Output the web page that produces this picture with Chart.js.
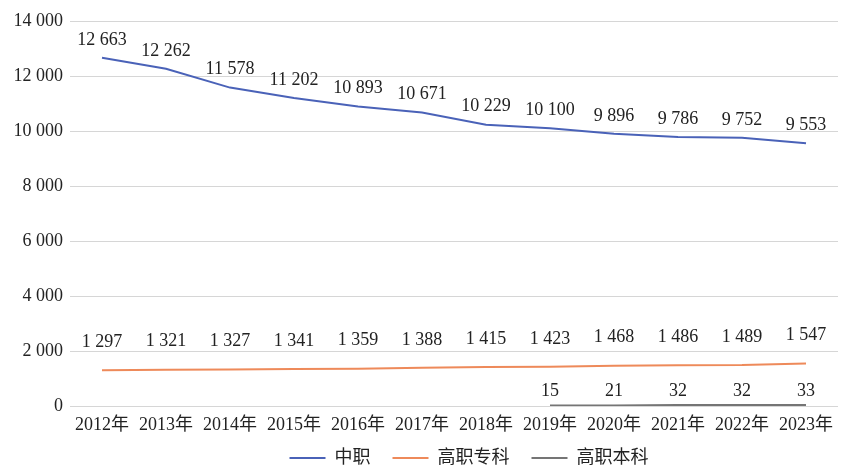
<!DOCTYPE html>
<html>
<head>
<meta charset="utf-8">
<script src="https://cdn.jsdelivr.net/npm/chart.js@4"></script>
<style>
  html, body { margin: 0; padding: 0; background: #fff; }
  #chart { display: block; }
</style>
</head>
<body>
<canvas id="chart" width="841" height="469"></canvas>
<script>
const years = ["2012年", "2013年", "2014年", "2015年", "2016年", "2017年", "2018年", "2019年", "2020年", "2021年", "2022年", "2023年"];
const zhongzhi = [12663, 12262, 11578, 11202, 10893, 10671, 10229, 10100, 9896, 9786, 9752, 9553];
const gaozhiZhuanke = [1297, 1321, 1327, 1341, 1359, 1388, 1415, 1423, 1468, 1486, 1489, 1547];
const gaozhiBenke = [null, null, null, null, null, null, null, 15, 21, 32, 32, 33];
const yTicks = [0, 2000, 4000, 6000, 8000, 10000, 12000, 14000];

const FONT = '"Liberation Serif", "Noto Sans CJK SC", serif';

function fmt(n) {
    return String(n).replace(/\B(?=(\d{3})+(?!\d))/g, " ");
}

// draws the value above every point
const valueLabels = {
    id: "valueLabels",
    afterDatasetsDraw(chart) {
        const ctx = chart.ctx;
        ctx.save();
        ctx.font = "18px " + FONT;
        ctx.fillStyle = "#222";
        ctx.textAlign = "center";
        ctx.textBaseline = "bottom";
        chart.data.datasets.forEach((ds, i) => {
            const meta = chart.getDatasetMeta(i);
            meta.data.forEach((pt, j) => {
                const v = ds.data[j];
                if (v === null || v === undefined) return;
                ctx.fillText(fmt(v), pt.x, pt.y - ds.labelOffset);
            });
        });
        ctx.restore();
    }
};

// keep wide gaps between legend items but a short legend box
const legendPlace = {
    id: "legendPlace",
    beforeLayout(chart) {
        const lg = chart.legend;
        if (lg && !lg._fixed) {
            const fit = lg.fit;
            lg.fit = function () {
                fit.call(this);
                this.height = 23;
            };
            lg._fixed = true;
        }
    },
    afterLayout(chart) {
        const lg = chart.legend;
        lg.top = chart.height - 42;
        lg.left += 100;
    }
};

new Chart(document.getElementById("chart"), {
    type: "line",
    data: {
        labels: years,
        datasets: [
            { label: "中职", data: zhongzhi, borderColor: "#4a62b8", backgroundColor: "#4a62b8", labelOffset: 9 },
            { label: "高职专科", data: gaozhiZhuanke, borderColor: "#ee8a5a", backgroundColor: "#ee8a5a", labelOffset: 19 },
            { label: "高职本科", data: gaozhiBenke, borderColor: "#757575", backgroundColor: "#757575", labelOffset: 5 }
        ]
    },
    options: {
        responsive: false,
        animation: false,
        layout: { padding: { top: 21, right: 3, left: 0, bottom: 0 } },
        elements: {
            line: { borderWidth: 2, tension: 0 },
            point: { radius: 0, hoverRadius: 0 }
        },
        plugins: {
            tooltip: { enabled: false },
            legend: {
                position: "bottom",
                labels: {
                    usePointStyle: true,
                    pointStyle: "line",
                    pointStyleWidth: 36,
                    boxHeight: 18,
                    padding: 22,
                    color: "#222",
                    font: { family: FONT, size: 18 },
                    generateLabels(chart) {
                        const items = Chart.defaults.plugins.legend.labels.generateLabels(chart);
                        items.forEach(it => { it.lineWidth = 2; });
                        return items;
                    }
                }
            }
        },
        scales: {
            x: {
                offset: true,
                afterFit(scale) { scale.height = 40; },
                grid: { display: false },
                border: { display: false },
                ticks: { color: "#222", font: { family: FONT, size: 18 }, maxRotation: 0, padding: 0 }
            },
            y: {
                min: 0,
                max: 14000,
                afterBuildTicks(scale) {
                    scale.ticks = yTicks.map(v => ({ value: v }));
                },
                afterFit(scale) { scale.width = 70; },
                grid: { color: "#d6d6d6", drawTicks: false },
                border: { display: false },
                ticks: {
                    color: "#222",
                    font: { family: FONT, size: 18 },
                    padding: 7,
                    callback: v => fmt(v)
                }
            }
        }
    },
    plugins: [valueLabels, legendPlace]
});
</script>
</body>
</html>
